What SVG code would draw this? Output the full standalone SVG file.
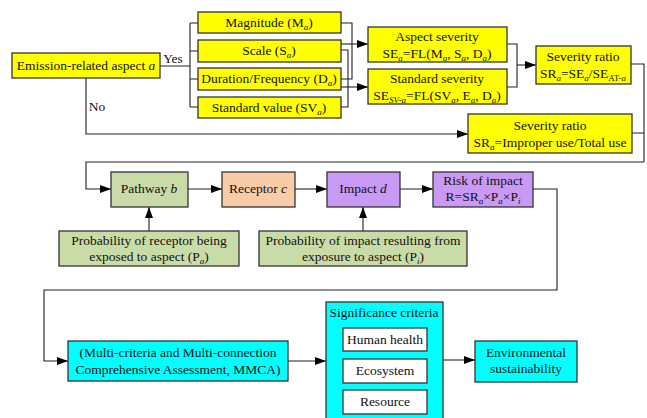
<svg xmlns="http://www.w3.org/2000/svg" width="647" height="418" viewBox="0 0 647 418">
<style>
text{font-family:'Liberation Serif',serif;font-size:13.5px;fill:#111;text-anchor:middle}
.box{stroke:#333;stroke-width:1.3}
.y{fill:#ffff00}.g{fill:#c9dba6}.o{fill:#f9cca8}.p{fill:#c899f5}.c{fill:#00ffff}.w{fill:#fff}
.ln{fill:none;stroke:#222;stroke-width:1.1}
.s{font-size:9px}
.i{font-style:italic}
</style>
<defs>
<marker id="ar" markerUnits="userSpaceOnUse" markerWidth="12" markerHeight="8" refX="11" refY="4" orient="auto">
<path d="M0,0 L11,4 L0,8 Z" fill="#000"/>
</marker>
</defs>
<g id="connectors" class="ln">
<path d="M160,66 H190 M190,23 V107 M190,23 H198 M190,51 H198 M190,79 H198 M190,107 H198"/>
<path d="M341,23 H352 V79 H341"/>
<path d="M341,44 H368" marker-end="url(#ar)"/>
<path d="M341,50 H348 V107 H341"/>
<path d="M341,87 H368" marker-end="url(#ar)"/>
<path d="M507,44 H517 V87 H507"/>
<path d="M517,65 H536" marker-end="url(#ar)"/>
<path d="M86,78 V134 H468" marker-end="url(#ar)"/>
<path d="M631,64 H644 V162 M632,133 H644"/>
<path d="M644,162 H86 V189 H111" marker-end="url(#ar)"/>
<path d="M188,189 H222" marker-end="url(#ar)"/>
<path d="M295,189 H327" marker-end="url(#ar)"/>
<path d="M400,189 H433" marker-end="url(#ar)"/>
<path d="M149,231 V207" marker-end="url(#ar)"/>
<path d="M363,231 V207" marker-end="url(#ar)"/>
<path d="M533,189 H557 V290 H44 V361 H68" marker-end="url(#ar)"/>
<path d="M288,361 H326" marker-end="url(#ar)"/>
<path d="M443,360 H475" marker-end="url(#ar)"/>
</g>
<g font-family="Liberation Serif, serif">
<text x="173" y="63">Yes</text>
<text x="97" y="111">No</text>
<g id="emission"><rect class="box y" x="12" y="53" width="148" height="25"/><text x="86" y="70">Emission-related aspect <tspan class="i">a</tspan></text></g>
<g id="magnitude"><rect class="box y" x="198" y="12" width="143" height="21"/><text x="269" y="27">Magnitude (M<tspan class="s i" dy="3">a</tspan><tspan dy="-3">)</tspan></text></g>
<g id="scale"><rect class="box y" x="198" y="40" width="143" height="22"/><text x="269" y="55">Scale (S<tspan class="s i" dy="3">a</tspan><tspan dy="-3">)</tspan></text></g>
<g id="duration"><rect class="box y" x="198" y="68" width="143" height="22"/><text x="269" y="83">Duration/Frequency (D<tspan class="s i" dy="3">a</tspan><tspan dy="-3">)</tspan></text></g>
<g id="standard"><rect class="box y" x="198" y="97" width="143" height="21"/><text x="269" y="112">Standard value (SV<tspan class="s i" dy="3">a</tspan><tspan dy="-3">)</tspan></text></g>
<g id="aspect-severity"><rect class="box y" x="368" y="27" width="139" height="35"/><text x="437" y="41">Aspect severity</text><text x="437" y="58">SE<tspan class="s i" dy="3">a</tspan><tspan dy="-3">=FL(M</tspan><tspan class="s i" dy="3">a</tspan><tspan dy="-3">, S</tspan><tspan class="s i" dy="3">a</tspan><tspan dy="-3">, D</tspan><tspan class="s i" dy="3">a</tspan><tspan dy="-3">)</tspan></text></g>
<g id="standard-severity"><rect class="box y" x="368" y="69" width="139" height="35"/><text x="437" y="83">Standard severity</text><text x="437" y="100">SE<tspan class="s i" dy="3">SV-a</tspan><tspan dy="-3">=FL(SV</tspan><tspan class="s i" dy="3">a</tspan><tspan dy="-3">, E</tspan><tspan class="s i" dy="3">a</tspan><tspan dy="-3">, D</tspan><tspan class="s i" dy="3">a</tspan><tspan dy="-3">)</tspan></text></g>
<g id="severity-ratio-1"><rect class="box y" x="536" y="46" width="95" height="38"/><text x="583" y="61">Severity ratio</text><text x="583" y="78">SR<tspan class="s i" dy="3">a</tspan><tspan dy="-3">=SE</tspan><tspan class="s i" dy="3">a</tspan><tspan dy="-3">/SE</tspan><tspan class="s" dy="3">AT-<tspan class="i">a</tspan></tspan></text></g>
<g id="severity-ratio-2"><rect class="box y" x="468" y="114" width="164" height="39"/><text x="550" y="130">Severity ratio</text><text x="550" y="147">SR<tspan class="s i" dy="3">a</tspan><tspan dy="-3">=Improper use/Total use</tspan></text></g>
<g id="pathway"><rect class="box g" x="111" y="172" width="77" height="35"/><text x="149" y="193">Pathway <tspan class="i">b</tspan></text></g>
<g id="receptor"><rect class="box o" x="222" y="172" width="73" height="35"/><text x="258" y="193">Receptor <tspan class="i">c</tspan></text></g>
<g id="impact"><rect class="box p" x="327" y="172" width="73" height="35"/><text x="363" y="193">Impact <tspan class="i">d</tspan></text></g>
<g id="risk"><rect class="box p" x="433" y="172" width="100" height="35"/><text x="483" y="185">Risk of impact</text><text x="483" y="201">R=SR<tspan class="s i" dy="3">a</tspan><tspan dy="-3">×P</tspan><tspan class="s i" dy="3">a</tspan><tspan dy="-3">×P</tspan><tspan class="s i" dy="3">i</tspan></text></g>
<g id="prob-a"><rect class="box g" x="59" y="231" width="180" height="35"/><text x="149" y="245">Probability of receptor being</text><text x="149" y="261">exposed to aspect (P<tspan class="s i" dy="3">a</tspan><tspan dy="-3">)</tspan></text></g>
<g id="prob-i"><rect class="box g" x="259" y="231" width="208" height="35"/><text x="363" y="245">Probability of impact resulting from</text><text x="363" y="261">exposure to aspect (P<tspan class="s i" dy="3">i</tspan><tspan dy="-3">)</tspan></text></g>
<g id="mmca"><rect class="box c" x="68" y="341" width="220" height="40"/><text x="178" y="357">(Multi-criteria and Multi-connection</text><text x="178" y="374">Comprehensive Assessment, MMCA)</text></g>
<g id="significance"><rect class="box c" x="326" y="302" width="117" height="122"/><text x="384" y="317">Significance criteria</text>
<rect class="box w" x="343" y="328" width="84" height="23"/><text x="385" y="344">Human health</text>
<rect class="box w" x="343" y="359" width="84" height="24"/><text x="385" y="375">Ecosystem</text>
<rect class="box w" x="343" y="390" width="84" height="24"/><text x="385" y="406">Resource</text></g>
<g id="environmental"><rect class="box c" x="475" y="341" width="102" height="41"/><text x="526" y="357">Environmental</text><text x="526" y="373">sustainability</text></g>
</g>
</svg>
